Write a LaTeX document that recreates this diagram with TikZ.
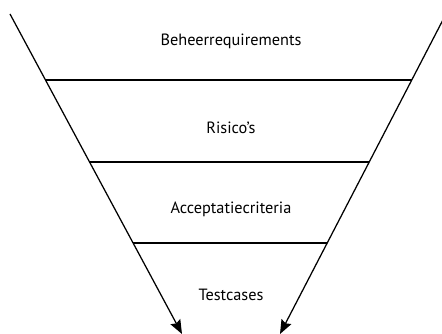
\documentclass[tikz,border=0pt]{standalone}
\usepackage{fontspec}
\setmainfont{PT Sans}
\usetikzlibrary{arrows.meta}

\begin{document}
\begin{tikzpicture}[x=1pt,y=1pt,line width=1.25pt]

      \useasboundingbox (0,0) rectangle (442,334);

      % funnel sides
      \coordinate (ltop) at (10,320);
      \coordinate (lbot) at (182,0);
      \coordinate (rtop) at (446,320);
      \coordinate (rbot) at (280,0);

      % ends of the layer lines
      \coordinate (l1) at (45.5,254);
      \coordinate (r1) at (412,254);
      \coordinate (l2) at (89,172);
      \coordinate (r2) at (369,172);
      \coordinate (l3) at (133,91);
      \coordinate (r3) at (327,91);

      \begin{scope}[every node/.style={font=\fontsize{16.3}{18}\selectfont}]
        \node (beheer) at (231,293) {Beheerrequirements};
        \node (risico) at (231,206) {Risico’s};
        \node (accept) at (231,125) {Acceptatiecriteria};
        \node (tests)  at (231,39)  {Testcases};
      \end{scope}

      \begin{scope}[-{Stealth[length=14pt,width=11pt,inset=2pt]}]
        \draw (ltop) -- (lbot);
        \draw (rtop) -- (rbot);
      \end{scope}

      \draw (l1) -- (r1);
      \draw (l2) -- (r2);
      \draw (l3) -- (r3);

    \end{tikzpicture}
\end{document}
